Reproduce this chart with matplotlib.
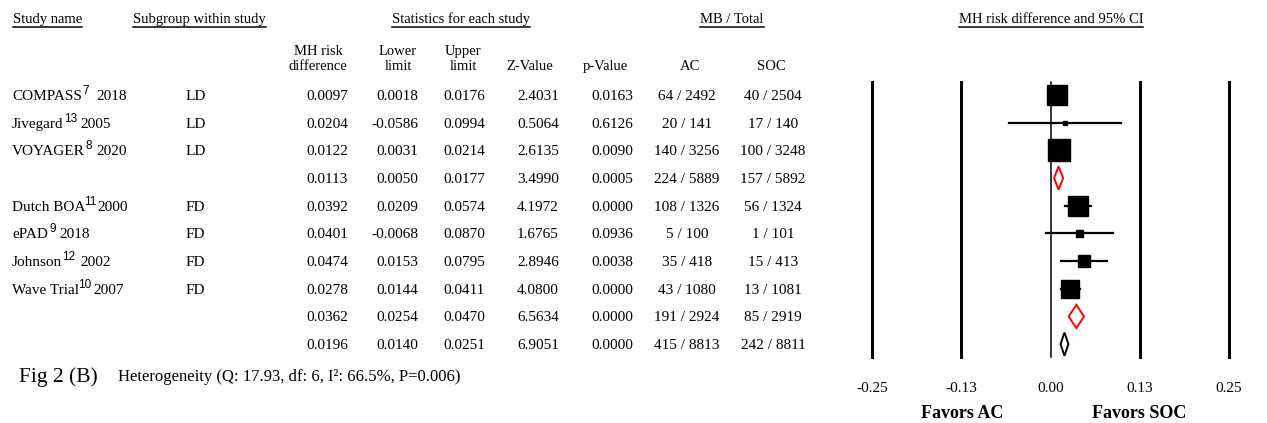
import matplotlib
matplotlib.use("Agg")
import matplotlib.pyplot as plt
import matplotlib.transforms as mtransforms
from matplotlib.lines import Line2D
from matplotlib.patches import Polygon

plt.rcParams['font.family'] = ['Liberation Serif', 'DejaVu Serif']

# rows of the table / forest plot, top to bottom
study_names = ["COMPASS", "Jivegard", "VOYAGER", "", "Dutch BOA", "ePAD", "Johnson", "Wave Trial", "", ""]
refs = ["7", "13", "8", "", "11", "9", "12", "10", "", ""]
years = ["2018", "2005", "2020", "", "2000", "2018", "2002", "2007", "", ""]
subgroups = ["LD", "LD", "LD", "", "FD", "FD", "FD", "FD", "", ""]
row_kind = ["study", "study", "study", "subgroup", "study", "study", "study", "study", "subgroup", "overall"]

est = [0.0097, 0.0204, 0.0122, 0.0113, 0.0392, 0.0401, 0.0474, 0.0278, 0.0362, 0.0196]
lower = [0.0018, -0.0586, 0.0031, 0.0050, 0.0209, -0.0068, 0.0153, 0.0144, 0.0254, 0.0140]
upper = [0.0176, 0.0994, 0.0214, 0.0177, 0.0574, 0.0870, 0.0795, 0.0411, 0.0470, 0.0251]
z_val = [2.4031, 0.5064, 2.6135, 3.4990, 4.1972, 1.6765, 2.8946, 4.0800, 6.5634, 6.9051]
p_val = [0.0163, 0.6126, 0.0090, 0.0005, 0.0000, 0.0936, 0.0038, 0.0000, 0.0000, 0.0000]
ac_events = [64, 20, 140, 224, 108, 5, 35, 43, 191, 415]
ac_total = [2492, 141, 3256, 5889, 1326, 100, 418, 1080, 2924, 8813]
soc_events = [40, 17, 100, 157, 56, 1, 15, 13, 85, 242]
soc_total = [2504, 140, 3248, 5892, 1324, 101, 413, 1081, 2919, 8811]

tick_vals = [-0.25, -0.125, 0.0, 0.125, 0.25]
tick_labels = ["-0.25", "-0.13", "0.00", "0.13", "0.25"]

# box side in pixels (study weight), gaps around the reference superscripts (px)
box_px = [20, 5, 22, 0, 20, 7, 12, 18, 0, 0]
gap_before = [0, 1, 1, 0, -1, 2, 0, -1, 0, 0]
gap_after = [8, 3, 4, 0, 1, 3, 5, 2, 0, 0]

W, H = 1267, 423
fig = plt.figure(figsize=(W / 100, H / 100), dpi=100)


def fx(px):
    return px / W


def fy(py):
    return 1 - py / H


# forest plot axes
ax = fig.add_axes([fx(872), fy(357), (1229 - 872) / W, (357 - 82) / H])
ax.set_xlim(-0.25, 0.25)
ax.set_ylim(9.465, -0.47)
ax.patch.set_visible(False)
for s in ax.spines.values():
    s.set_visible(False)
ax.set_yticks([])
ax.set_xticks(tick_vals, tick_labels)
ax.tick_params(axis='x', length=0, pad=18, labelsize=11)

for t in tick_vals:
    ax.axvline(t, color='black', lw=1.1 if t == 0 else 2.16, zorder=1, clip_on=False)

for i, kind in enumerate(row_kind):
    if kind == "study":
        ax.plot([lower[i], upper[i]], [i, i], color='black', lw=1.6, zorder=2)
        ax.plot(est[i], i, marker='s', ms=box_px[i] * 0.72, color='black',
                mec='black', zorder=3)
    else:
        h = 0.42
        col = 'red' if kind == "subgroup" else 'black'
        poly = Polygon([(lower[i], i), (est[i], i - h), (upper[i], i), (est[i], i + h)],
                       closed=True, facecolor='white', edgecolor=col, lw=1.4, zorder=3)
        ax.add_patch(poly)

# table
row_tr = mtransforms.blended_transform_factory(fig.transFigure, ax.transData)
row_tr = mtransforms.offset_copy(row_tr, fig=fig, x=0, y=-5, units='dots')
renderer = fig.canvas.get_renderer()
ident = mtransforms.IdentityTransform()
fs = 11
for i in range(len(est)):
    if study_names[i]:
        yb = ax.transData.transform((0, i))[1] - 5
        t1 = fig.text(12, yb, study_names[i], transform=ident, ha='left', va='baseline', fontsize=fs)
        x1 = t1.get_window_extent(renderer).x1 + gap_before[i]
        t2 = fig.text(x1, yb + 6, refs[i], transform=ident, ha='left', va='baseline',
                      fontsize=8.5, family='Liberation Sans')
        x2 = t2.get_window_extent(renderer).x1 + gap_after[i]
        fig.text(x2, yb, years[i], transform=ident, ha='left', va='baseline', fontsize=fs)
    if subgroups[i]:
        fig.text(fx(186), i, subgroups[i], transform=row_tr, ha='left', va='baseline', fontsize=fs)
    fig.text(fx(348), i, f"{est[i]:.4f}", transform=row_tr, ha='right', va='baseline', fontsize=fs)
    fig.text(fx(418), i, f"{lower[i]:.4f}", transform=row_tr, ha='right', va='baseline', fontsize=fs)
    fig.text(fx(485), i, f"{upper[i]:.4f}", transform=row_tr, ha='right', va='baseline', fontsize=fs)
    fig.text(fx(559), i, f"{z_val[i]:.4f}", transform=row_tr, ha='right', va='baseline', fontsize=fs)
    fig.text(fx(633), i, f"{p_val[i]:.4f}", transform=row_tr, ha='right', va='baseline', fontsize=fs)
    fig.text(fx(687), i, f"{ac_events[i]} / {ac_total[i]}", transform=row_tr,
             ha='center', va='baseline', fontsize=fs)
    fig.text(fx(773), i, f"{soc_events[i]} / {soc_total[i]}", transform=row_tr,
             ha='center', va='baseline', fontsize=fs)

# top headers (underlined)
hs = 10.5
headers = [
    fig.text(fx(13), fy(23), "Study name", ha='left', va='baseline', fontsize=hs),
    fig.text(fx(133), fy(23), "Subgroup within study", ha='left', va='baseline', fontsize=hs),
    fig.text(fx(461), fy(23), "Statistics for each study", ha='center', va='baseline', fontsize=hs),
    fig.text(fx(732), fy(23), "MB / Total", ha='center', va='baseline', fontsize=hs),
    fig.text(fx(1051), fy(23), "MH risk difference and 95% CI", ha='center', va='baseline', fontsize=hs),
]

# column headers
col_heads = [(318, "MH risk", "difference"), (398, "Lower", "limit"), (463, "Upper", "limit"),
             (530, "", "Z-Value"), (605, "", "p-Value"), (690, "", "AC"), (771, "", "SOC")]
for x, top, bottom in col_heads:
    if top:
        fig.text(fx(x), fy(55), top, ha='center', va='baseline', fontsize=hs)
    fig.text(fx(x), fy(70), bottom, ha='center', va='baseline', fontsize=hs)

fig.text(fx(962), fy(413), "Favors AC", ha='center', va='center', fontsize=13, fontweight='bold')
fig.text(fx(1139), fy(413), "Favors SOC", ha='center', va='center', fontsize=13, fontweight='bold')

fig.text(fx(19), fy(377), "Fig 2 (B)", ha='left', va='center', fontsize=15.5)
fig.text(fx(118), fy(377), "Heterogeneity (Q: 17.93, df: 6, I\u00b2: 66.5%, P=0.006)",
         ha='left', va='center', fontsize=12)

# underline the top headers
for t in headers:
    bb = t.get_window_extent(renderer)
    yline = (bb.y0 - 1.5) / H
    fig.add_artist(Line2D([bb.x0 / W, bb.x1 / W], [yline, yline], color='black', lw=1.1,
                          transform=fig.transFigure))

fig.savefig("out.png", dpi=100)
